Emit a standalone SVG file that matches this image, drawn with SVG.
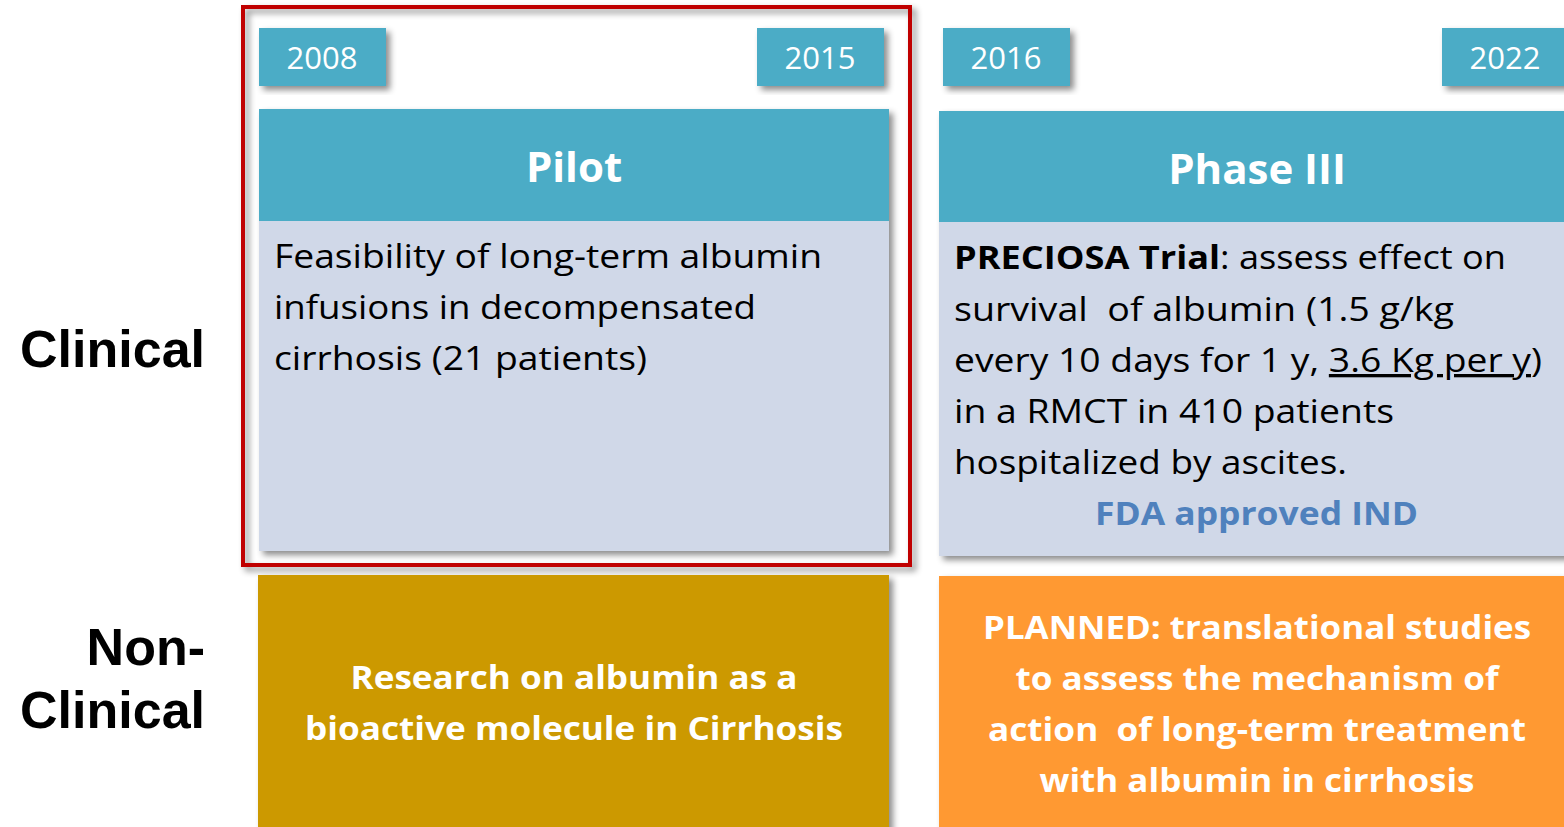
<svg xmlns="http://www.w3.org/2000/svg" width="1564" height="827" viewBox="0 0 1564 827">
<defs>
<filter id="sh" x="-5%" y="-5%" width="115%" height="120%">
<feDropShadow dx="4" dy="4" stdDeviation="3" flood-color="#000" flood-opacity="0.45"/>
</filter>
<style>
.yr{fill:#4BACC6;filter:url(#sh)}
.yt{font-family:"Open Sans",sans-serif;font-size:31px;fill:#fff;text-anchor:middle}
.hd{fill:#4BACC6}
.ht{font-family:"Open Sans",sans-serif;font-size:42px;font-weight:bold;fill:#fff;text-anchor:middle}
.bd{fill:#D0D8E8}
.bt{font-family:"Open Sans",sans-serif;font-size:33px;fill:#000}
.fda{font-family:"Open Sans",sans-serif;font-size:33px;font-weight:bold;fill:#4F81BD}
.wt{font-family:"Open Sans",sans-serif;font-size:32px;font-weight:bold;fill:#fff;text-anchor:middle}
.lb{font-family:"Liberation Sans",Arial,sans-serif;font-size:52px;font-weight:bold;fill:#000;text-anchor:end}
</style>
</defs>
<rect width="1564" height="827" fill="#fff"/>

<g id="labels">
<text class="lb" x="205" y="367">Clinical</text>
<text class="lb" x="205" y="665">Non-</text>
<text class="lb" x="205" y="728">Clinical</text>
</g>

<g id="y2008"><rect class="yr" x="259" y="28" width="127" height="58"/><text class="yt" x="322" y="69">2008</text></g>
<g id="y2015"><rect class="yr" x="757" y="28" width="127" height="58"/><text class="yt" x="820" y="69">2015</text></g>
<g id="y2016"><rect class="yr" x="943" y="28" width="127" height="58"/><text class="yt" x="1006" y="69">2016</text></g>
<g id="y2022"><rect class="yr" x="1442" y="28" width="130" height="58"/><text class="yt" x="1505" y="69">2022</text></g>

<g id="pilot">
<g filter="url(#sh)">
<rect class="hd" x="259" y="109" width="630" height="112"/>
<rect class="bd" x="259" y="221" width="630" height="330"/>
</g>
<text class="ht" x="574" y="182">Pilot</text>
<text class="bt" x="274" y="268" textLength="548" lengthAdjust="spacingAndGlyphs">Feasibility of long-term albumin</text>
<text class="bt" x="274" y="319" textLength="482" lengthAdjust="spacingAndGlyphs">infusions in decompensated</text>
<text class="bt" x="274" y="370" textLength="373" lengthAdjust="spacingAndGlyphs">cirrhosis (21 patients)</text>
</g>

<g id="phase3">
<g filter="url(#sh)">
<rect class="hd" x="939" y="111" width="630" height="111"/>
<rect class="bd" x="939" y="222" width="630" height="334"/>
</g>
<text class="ht" x="1257" y="184">Phase III</text>
<text class="bt" x="954" y="269" textLength="552" lengthAdjust="spacingAndGlyphs"><tspan font-weight="bold">PRECIOSA Trial</tspan>: assess effect on</text>
<text class="bt" x="954" y="321" textLength="500" lengthAdjust="spacingAndGlyphs" xml:space="preserve">survival  of albumin (1.5 g/kg</text>
<text class="bt" x="954" y="372" textLength="588" lengthAdjust="spacingAndGlyphs">every 10 days for 1 y, <tspan text-decoration="underline">3.6 Kg per y</tspan>)</text>
<text class="bt" x="954" y="423" textLength="440" lengthAdjust="spacingAndGlyphs">in a RMCT in 410 patients</text>
<text class="bt" x="954" y="474" textLength="393" lengthAdjust="spacingAndGlyphs">hospitalized by ascites.</text>
<text class="fda" x="1095" y="525" textLength="323" lengthAdjust="spacingAndGlyphs">FDA approved IND</text>
</g>

<g id="focus">
<rect x="243" y="7" width="667" height="558" fill="none" stroke="#C00000" stroke-width="4" filter="url(#sh)"/>
</g>

<g id="nonclin1">
<rect x="258" y="575" width="631" height="260" fill="#CC9900" filter="url(#sh)"/>
<text class="wt" x="574" y="689" textLength="447" lengthAdjust="spacingAndGlyphs">Research on albumin as a</text>
<text class="wt" x="574" y="740" textLength="538" lengthAdjust="spacingAndGlyphs">bioactive molecule in Cirrhosis</text>
</g>

<g id="nonclin2">
<rect x="939" y="576" width="630" height="260" fill="#FF9933" filter="url(#sh)"/>
<text class="wt" x="1257" y="639" textLength="548" lengthAdjust="spacingAndGlyphs">PLANNED: translational studies</text>
<text class="wt" x="1257" y="690" textLength="483" lengthAdjust="spacingAndGlyphs">to assess the mechanism of</text>
<text class="wt" x="1257" y="741" textLength="538" lengthAdjust="spacingAndGlyphs" xml:space="preserve">action  of long-term treatment</text>
<text class="wt" x="1257" y="792" textLength="435" lengthAdjust="spacingAndGlyphs">with albumin in cirrhosis</text>
</g>

<g id="connectors"></g>
</svg>
